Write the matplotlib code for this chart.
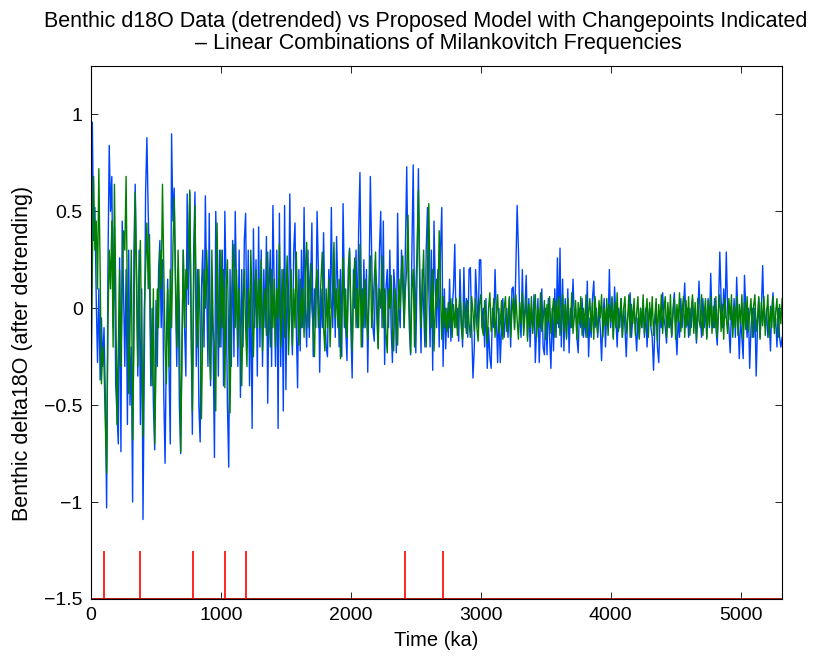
"""Benthic d18O (detrended) vs Milankovitch-combination model, changepoints marked."""

import matplotlib
matplotlib.use("Agg")
import matplotlib.pyplot as plt
import numpy as np
from matplotlib.ticker import FuncFormatter

plt.rcParams["font.family"] = ["Liberation Sans", "DejaVu Sans"]

# sampling grid of both series (ka), one value every 10 ka
time_ka = np.arange(0, 5321, 10)

# detrended benthic d18O (rows of 100 ka)
data_d18o = [
    -0.78, 0.96, 0.35, 0.52, 0.05, -0.28, 0.1, -0.37, -0.05, -0.3,
    -0.1, -0.45, -1.03, 0.2, 0.84, 0.5, 0.68, -0.1, 0.42, -0.4,
    -0.55, -0.7, 0.26, -0.74, 0.45, 0.1, -0.3, 0.2, -0.6, 0.3,
    -0.5, -0.2, -1.0, 0.3, 0.64, 0.16, -0.35, 0.3, -0.6, 0.1,
    -1.09, -0.3, 0.6, 0.88, 0.5, 0.2, -0.4, 0.0, -0.5, -0.73,
    0.04, -0.3, 0.2, 0.35, -0.1, 0.25, -0.45, -0.8, -0.18, 0.15,
    -0.3, -0.7, 0.9, 0.45, 0.62, 0.1, -0.3, 0.2, -0.5, -0.75,
    -0.2, 0.3, -0.1, -0.35, 0.59, 0.02, 0.6, -0.1, -0.65, 0.3,
    0.6, -0.3, 0.2, -0.5, -0.69, 0.1, 0.3, -0.2, 0.58, 0.1,
    -0.3, 0.49, -0.4, 0.1, -0.2, -0.77, 0.5, 0.2, -0.35, 0.3,
    -0.2, 0.3, -0.4, 0.5, 0.1, -0.5, -0.82, 0.2, -0.3, 0.35,
    -0.25, 0.5, 0.1, -0.3, 0.3, -0.46, 0.2, -0.2, 0.35, 0.49,
    -0.2, 0.3, -0.4, 0.1, -0.62, 0.41, -0.1, 0.25, -0.35, 0.42,
    -0.2, 0.3, -0.3, 0.2, -0.1, 0.37, -0.49, 0.1, 0.3, -0.3,
    0.53, 0.1, -0.3, 0.3, -0.62, 0.49, -0.3, 0.2, -0.53, 0.53,
    -0.42, 0.2, -0.1, 0.59, 0.0, -0.24, 0.3, 0.44, -0.1, -0.41,
    0.2, -0.22, 0.3, -0.1, 0.52, 0.0, -0.2, 0.3, -0.15, 0.1,
    0.44, -0.25, 0.1, -0.1, 0.5, 0.2, -0.33, 0.1, -0.1, 0.39,
    0.0, -0.2, -0.25, 0.2, 0.0, 0.52, -0.1, 0.2, -0.15, 0.37,
    0.1, -0.2, 0.2, -0.25, 0.54, 0.1, -0.1, -0.27, 0.2, 0.31,
    -0.1, -0.36, 0.2, 0.0, 0.3, -0.1, 0.4, 0.7, 0.1, -0.2,
    0.25, -0.1, 0.2, -0.33, 0.1, 0.68, 0.3, -0.1, -0.17, 0.2,
    0.1, -0.2, 0.3, 0.5, -0.1, 0.45, -0.29, 0.1, 0.2, -0.1,
    0.3, -0.1, -0.28, 0.2, 0.1, -0.23, 0.49, 0.0, -0.1, 0.3,
    0.1, -0.1, 0.3, 0.73, 0.2, -0.1, -0.24, 0.3, 0.74, 0.0,
    -0.23, 0.2, 0.72, 0.1, -0.23, 0.2, 0.0, -0.2, 0.3, 0.52,
    0.1, -0.2, 0.3, -0.32, 0.45, 0.1, -0.1, 0.2, -0.2, 0.3,
    0.52, -0.3, 0.1, -0.21, 0.0, -0.15, 0.15, -0.17, 0.0, 0.1,
    0.33, -0.1, 0.0, -0.17, 0.2, -0.05, -0.2, 0.21, -0.1, 0.05,
    -0.15, 0.2, 0.21, -0.1, -0.36, -0.21, 0.2, 0.05, -0.1, 0.25,
    0.25, -0.1, 0.0, -0.2, 0.05, -0.31, -0.1, -0.25, -0.31, 0.0,
    -0.1, 0.2, -0.05, -0.28, 0.0, -0.28, -0.1, 0.05, -0.15, -0.05,
    0.0, -0.15, 0.05, -0.2, 0.1, 0.11, -0.1, 0.2, 0.53, 0.3,
    -0.05, -0.15, 0.2, -0.1, 0.0, 0.17, -0.15, 0.05, -0.2, 0.0,
    -0.1, 0.07, -0.28, -0.1, 0.05, -0.28, -0.05, 0.1, -0.2, -0.24,
    0.0, -0.24, 0.05, -0.15, -0.31, 0.0, -0.22, 0.1, -0.15, 0.26,
    -0.1, 0.31, -0.2, 0.15, -0.22, 0.05, -0.15, 0.1, -0.23, 0.0,
    -0.1, 0.15, -0.05, 0.0, -0.15, -0.23, 0.0, -0.1, 0.05, -0.15,
    -0.05, -0.15, 0.14, -0.25, -0.05, -0.15, 0.05, 0.14, -0.1, 0.0,
    -0.15, 0.0, -0.1, -0.27, -0.05, 0.05, -0.2, 0.0, -0.1, 0.2,
    -0.1, 0.05, -0.15, 0.11, -0.05, -0.2, 0.0, -0.1, 0.05, -0.15,
    0.0, -0.1, -0.25, -0.05, 0.0, 0.08, -0.15, -0.05, 0.0, -0.1,
    -0.22, -0.05, -0.15, 0.0, -0.1, 0.04, -0.15, 0.0, -0.2, -0.05,
    0.0, -0.1, -0.15, -0.32, -0.1, 0.0, -0.2, -0.28, -0.05, -0.1,
    0.08, -0.05, -0.1, -0.18, 0.0, -0.1, -0.05, -0.15, 0.0, 0.08,
    -0.1, -0.24, -0.05, -0.15, 0.05, -0.1, 0.0, 0.13, -0.1, 0.0,
    -0.15, 0.0, -0.1, 0.05, -0.1, 0.0, -0.18, -0.05, 0.14, -0.05,
    -0.15, 0.05, -0.1, 0.0, -0.15, 0.05, -0.1, 0.18, -0.05, -0.1,
    0.05, -0.1, -0.19, 0.0, 0.29, 0.05, -0.1, 0.1, -0.05, 0.29,
    0.0, -0.1, -0.23, 0.0, -0.1, 0.05, -0.15, 0.16, -0.05, -0.26,
    -0.05, -0.15, -0.26, 0.17, 0.0, -0.15, 0.0, -0.31, -0.1, 0.0,
    -0.15, 0.0, -0.35, -0.1, 0.05, -0.15, 0.0, 0.22, -0.05, -0.1,
    0.0, -0.15, -0.05, -0.22, 0.0, 0.08, -0.1, -0.05, -0.2, 0.0,
    -0.15, -0.2, -0.15,
]

# proposed model (linear combination of Milankovitch frequencies)
model_d18o = [
    -0.35, 0.2, 0.68, 0.3, 0.45, 0.1, 0.72, 0.2, -0.39, -0.2,
    -0.3, -0.6, -0.85, -0.1, 0.3, 0.1, 0.45, -0.2, 0.64, 0.1,
    -0.6, -0.2, 0.2, -0.3, 0.1, 0.4, 0.3, 0.68, 0.0, -0.44,
    -0.1, 0.3, -0.68, -0.2, 0.6, 0.2, -0.3, 0.15, 0.35, -0.2,
    -0.66, 0.0, 0.2, 0.44, 0.1, 0.38, -0.2, -0.4, 0.1, -0.7,
    -0.3, 0.1, -0.1, 0.3, 0.1, 0.64, 0.2, -0.2, -0.39, 0.1,
    -0.3, 0.2, -0.1, 0.3, 0.57, 0.2, -0.2, 0.3, 0.0, -0.74,
    -0.2, 0.3, -0.1, 0.2, 0.1, 0.3, 0.61, 0.0, -0.53, 0.1,
    0.53, 0.0, -0.2, 0.2, -0.1, -0.57, -0.1, 0.2, 0.0, 0.3,
    0.1, -0.2, -0.37, 0.3, -0.1, -0.2, -0.53, 0.44, 0.0, -0.2,
    0.3, -0.1, 0.2, -0.41, 0.1, 0.25, -0.2, -0.54, 0.0, 0.2,
    0.33, -0.1, 0.2, -0.2, 0.1, -0.1, -0.4, 0.0, 0.2, -0.1,
    -0.3, 0.1, -0.1, 0.3, 0.0, -0.25, 0.1, 0.2, -0.1, 0.15,
    -0.1, 0.25, -0.22, 0.0, 0.1, -0.14, 0.29, 0.0, -0.2, 0.2,
    -0.1, 0.15, -0.2, 0.1, -0.05, 0.33, -0.2, 0.0, 0.2, -0.15,
    0.1, 0.27, -0.24, 0.0, 0.2, -0.19, 0.1, -0.1, 0.29, 0.0,
    -0.19, 0.15, -0.1, 0.1, -0.15, 0.2, 0.34, -0.1, 0.1, 0.23,
    0.0, -0.1, -0.25, 0.1, 0.2, -0.1, 0.0, 0.15, 0.29, -0.1,
    -0.22, 0.1, -0.1, 0.15, -0.2, 0.0, 0.1, 0.34, -0.05, 0.1,
    -0.1, 0.15, -0.26, 0.0, 0.26, -0.1, 0.1, -0.15, 0.1, 0.3,
    0.0, -0.22, 0.1, 0.26, -0.1, 0.1, -0.1, 0.33, -0.2, 0.1,
    -0.1, 0.15, 0.0, -0.16, 0.1, 0.27, -0.1, 0.0, 0.15, 0.29,
    -0.05, -0.21, 0.1, 0.0, 0.27, -0.1, 0.1, -0.13, -0.23, 0.1,
    0.0, 0.17, -0.1, -0.22, 0.1, 0.0, -0.19, 0.15, 0.0, 0.2,
    0.27, -0.1, 0.1, 0.2, 0.48, 0.0, -0.23, 0.1, 0.2, -0.2,
    0.1, 0.3, 0.61, 0.2, -0.1, 0.1, 0.3, -0.05, -0.2, 0.2,
    0.54, 0.1, -0.1, 0.2, -0.22, 0.0, 0.15, 0.0, 0.4, 0.1,
    -0.16, 0.06, -0.1, 0.0, -0.12, 0.03, -0.1, 0.05, -0.15, 0.02,
    -0.1, 0.05, -0.14, -0.02, 0.06, -0.1, -0.16, 0.03, -0.05, -0.13,
    0.04, -0.08, -0.15, 0.06, -0.02, -0.12, 0.05, -0.1, -0.17, 0.02,
    0.07, -0.1, -0.14, 0.04, -0.05, -0.18, 0.0, 0.08, -0.12, -0.06,
    0.05, -0.15, -0.03, 0.07, -0.13, -0.08, 0.04, -0.16, 0.0, 0.06,
    -0.12, -0.05, 0.06, -0.15, -0.02, 0.05, -0.11, 0.07, -0.06, -0.16,
    0.03, -0.08, 0.08, -0.14, -0.04, 0.05, -0.17, 0.02, -0.1, 0.06,
    -0.13, -0.02, 0.07, -0.15, 0.0, -0.1, 0.08, -0.12, -0.06, 0.04,
    -0.16, 0.02, -0.07, 0.06, -0.13, -0.03, 0.05, -0.15, 0.04, -0.08,
    0.06, -0.14, -0.02, 0.07, -0.12, 0.02, -0.16, 0.05, -0.05, -0.1,
    0.08, -0.13, -0.04, 0.04, -0.16, 0.03, -0.08, 0.06, -0.14, 0.0,
    -0.1, 0.07, -0.15, -0.02, 0.05, -0.12, 0.03, -0.16, 0.06, -0.06,
    -0.13, 0.04, -0.05, 0.07, -0.15, 0.0, -0.09, 0.05, -0.14, 0.02,
    -0.07, 0.06, -0.16, 0.03, -0.1, 0.08, -0.12, -0.04, 0.05, -0.15,
    0.0, 0.06, -0.13, -0.06, 0.07, -0.15, 0.02, -0.08, 0.05, -0.14,
    -0.02, 0.06, -0.16, 0.0, -0.1, 0.07, -0.13, -0.03, 0.05, -0.15,
    0.03, -0.09, 0.06, -0.14, -0.04, 0.05, -0.17, 0.02, -0.08, 0.07,
    -0.13, -0.01, 0.06, -0.15, 0.03, -0.1, 0.07, -0.14, -0.03, 0.05,
    -0.16, 0.02, -0.07, 0.08, -0.12, -0.02, 0.06, -0.15, 0.04, -0.09,
    0.06, -0.14, -0.01, 0.07, -0.13, 0.03, -0.16, 0.05, -0.06, -0.1,
    0.07, -0.14, -0.03, 0.05, -0.16, 0.04, -0.09, 0.06, -0.13, 0.01,
    -0.1, 0.06, -0.15, -0.01, 0.07, -0.12, 0.02, -0.16, 0.05, -0.05,
    -0.13, 0.05, -0.06, 0.07, -0.15, 0.01, -0.1, 0.06, -0.14, 0.02,
    -0.08, 0.07, -0.16, 0.03, -0.11, 0.06, -0.12, -0.03, 0.05, -0.15,
    0.01, 0.07, -0.12, -0.05, 0.06, -0.16, 0.03, -0.09, 0.06, -0.14,
    -0.03, 0.07, -0.15, 0.01, -0.1, 0.06, -0.13, -0.02, 0.05, -0.15,
    0.02, -0.08, 0.05,
]

# changepoint locations (ka) and the marker heights
changepoints_ka = [100, 377, 788, 1029, 1195, 2413, 2710]
cp_base, cp_top = -1.5, -1.25

title_1 = "Benthic d18O Data (detrended) vs Proposed Model with Changepoints Indicated"
title_2 = "\u2013 Linear Combinations of Milankovitch Frequencies"

fig = plt.figure(figsize=(8.15, 6.58), dpi=100)
ax = fig.add_axes([0.1117, 0.0897, 0.848, 0.81])

ax.plot(time_ka, data_d18o, color="#0044ff", lw=1.0)
ax.plot(time_ka, model_d18o, color="#008000", lw=1.0)

# changepoint indicator: baseline at -1.5 with spikes up to -1.25
ax.axhline(cp_base, color="#b00000", lw=2.0, zorder=1)
ax.vlines(changepoints_ka, cp_base, cp_top, color="red", lw=1.2)

ax.set_xlim(0, 5320)
ax.set_ylim(-1.5, 1.25)
ax.set_xticks([0, 1000, 2000, 3000, 4000, 5000])
ax.set_yticks([-1.5, -1, -0.5, 0, 0.5, 1])
ax.yaxis.set_major_formatter(
    FuncFormatter(lambda v, _: f"{v:g}".replace("-", "\u2212")))
ax.tick_params(direction="in", length=5, top=True, right=True,
               labelsize=14, width=0.6, colors="black", pad=6)
for s in ax.spines.values():
    s.set_linewidth(0.8)

ax.set_xlabel("Time (ka)", fontsize=14.5, labelpad=5)
ax.set_ylabel("Benthic delta18O (after detrending)", fontsize=15.5)
ax.yaxis.set_label_coords(-0.084, 0.46)

fig.text(426 / 815, 1 - 21 / 658, title_1, fontsize=15.5,
         ha="center", va="center")
fig.text(438 / 815, 1 - 44 / 658, title_2, fontsize=15.5,
         ha="center", va="center")

fig.savefig("out.png", dpi=100)
